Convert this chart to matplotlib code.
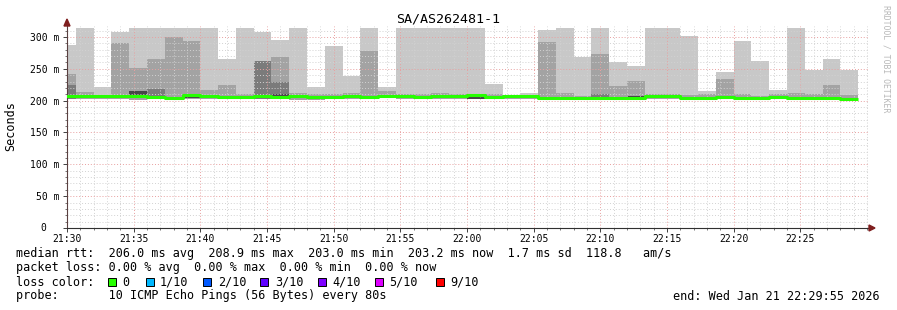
import matplotlib
matplotlib.use("Agg")
import matplotlib.pyplot as plt
import numpy as np
from matplotlib.patches import Polygon, Rectangle

# ---------------- data ----------------
title = "SA/AS262481-1"
first_step_offset_s = -40          # first sample starts at 21:29:20 (relative to 21:30:00)
step_seconds = 80

rtt_max = [288, 314, 221, 308, 314, 314, 314, 314, 314, 266, 314, 308, 296, 314, 221,
           286, 239, 314, 221, 314, 314, 314, 314, 314, 226, 209, 212, 311, 314, 269,
           314, 260, 254, 314, 314, 301, 215, 245, 294, 262, 217, 314, 248, 266, 248]
rtt_mid = [242, 213, 207, 290, 251, 266, 300, 294, 216, 225, 211, 262, 269, 212, 210,
           211, 212, 278, 215, 211, 210, 212, 210, 211, 211, 207, 208, 292, 212, 207,
           273, 223, 231, 211, 211, 209, 211, 234, 210, 208, 210, 212, 210, 225, 209]
rtt_dark = [225, None, None, None, None, 219, None, None, None, None, None, 262, 229, None, None,
            None, None, None, None, None, None, None, None, None, None, None, None, None, None, None,
            211, None, None, None, None, None, None, None, None, None, None, None, None, None, None]
rtt_min = [202, 202, 202, 202, 201.5, 202, 202, 202, 202, 202, 202, 202, 202, 201.5, 200.5,
           202, 202, 202, 206, 202, 202, 202, 202, 202, 202, 203, 203, 202, 202, 202,
           202, 202, 202, 202, 202, 202, 202, 202, 202, 202, 202, 202, 202, 202, 202]
rtt_median = [207, 207, 207, 207.5, 208, 206.5, 204, 208.7, 207, 206, 206.5, 207.3, 206.5, 207, 206.5,
              206.5, 207.2, 206.3, 207.3, 207, 205.5, 207.3, 207.3, 208.5, 205, 206.8, 206.8, 204.2, 203.9, 204,
              204.5, 204.5, 204.3, 206.8, 206.8, 204.5, 204.5, 206.5, 204.2, 204.2, 206.5, 204.5, 204, 204.3, 203.2]
rtt_core = [None, None, 204, None, 215, None, None, 204.5, None, 203.5, None, None, 210, None, None,
            None, None, 204, None, None, 203.5, None, None, 202.5, None, None, None, None, None, None,
            None, None, 207.3, 205, None, 203.3, None, 204.8, None, None, None, None, None, 206.5, None]

x_tick_minutes = [0, 5, 10, 15, 20, 25, 30, 35, 40, 45, 50, 55]
x_tick_labels = ["21:30", "21:35", "21:40", "21:45", "21:50", "21:55",
                 "22:00", "22:05", "22:10", "22:15", "22:20", "22:25"]
y_ticks = [0, 50, 100, 150, 200, 250, 300]
y_tick_labels = ["0", "50 m", "100 m", "150 m", "200 m", "250 m", "300 m"]

legend_lines = [
    "median rtt:  206.0 ms avg  208.9 ms max  203.0 ms min  203.2 ms now  1.7 ms sd  118.8   am/s",
    "packet loss: 0.00 % avg  0.00 % max  0.00 % min  0.00 % now",
    "loss color:",
    "probe:       10 ICMP Echo Pings (56 Bytes) every 80s",
]
loss_labels = ["0", "1/10", "2/10", "3/10", "4/10", "5/10", "9/10"]
loss_colors = ["#26ff00", "#00b8ff", "#0059ff", "#5e00ff", "#7e00ff", "#dd00ff", "#ff0000"]
end_text = "end: Wed Jan 21 22:29:55 2026"
watermark = "RRDTOOL / TOBI OETIKER"

# ---------------- figure ----------------
W, H = 897, 310
MONO = "DejaVu Sans Mono"
plt.rcParams["font.family"] = MONO

fig = plt.figure(figsize=(W / 100, H / 100), dpi=100)
fig.patch.set_facecolor("white")

def fx(px):
    return px / W

def fy(py):
    return 1 - py / H

ax_left, ax_right, ax_bottom = 67, 868, 228
px_per_ms = 0.6367
ytop = 317
ax_top = ax_bottom - ytop * px_per_ms
ax = fig.add_axes([fx(ax_left), fy(ax_bottom), (ax_right - ax_left) / W, (ax_bottom - ax_top) / H])
xmax = (ax_right - ax_left) / 13.333
ax.set_xlim(0, xmax)
ax.set_ylim(0, ytop)

n = len(rtt_max)
step_w = step_seconds / 60.0
x_left = np.array([first_step_offset_s / 60.0 + k * step_w for k in range(n)])

def arr(v):
    return np.array([np.nan if a is None else a for a in v], dtype=float)

mx, md, dk, mn, med, core = map(arr, (rtt_max, rtt_mid, rtt_dark, rtt_min, rtt_median, rtt_core))

ax.bar(x_left, mx - mn, bottom=mn, width=step_w, align="edge", color="#c8c8c8", linewidth=0, zorder=1)
ax.bar(x_left, md - mn, bottom=mn, width=step_w, align="edge", color="#a3a3a3", linewidth=0, zorder=1.1)
ok = ~np.isnan(dk)
ax.bar(x_left[ok], (dk - mn)[ok], bottom=mn[ok], width=step_w, align="edge", color="#7b7b7b", linewidth=0, zorder=1.2)
ok = ~np.isnan(core)
lo = np.minimum(core, med)[ok]
hi = np.maximum(core, med)[ok]
ax.bar(x_left[ok], hi - lo, bottom=lo, width=step_w, align="edge", color="#474747", linewidth=0, zorder=1.3)

xs = np.append(x_left, x_left[-1] + step_w)
ys = np.append(med, med[-1])
ax.plot(xs, ys, drawstyle="steps-post", color="#26ff00", lw=2.2, solid_capstyle="butt", zorder=3)

# grid
ax.set_xticks(x_tick_minutes)
ax.set_xticklabels(x_tick_labels)
ax.set_xticks(np.arange(1, 61, 1), minor=True)
ax.set_yticks(y_ticks)
ax.set_yticklabels([""] + y_tick_labels[1:])
ax.set_yticks(np.arange(10, 320, 10), minor=True)
ax.grid(which="minor", color="#d2d2d2", lw=0.7, linestyle=(0, (1, 2)))
ax.grid(which="major", color="#e8a0a0", lw=0.7, linestyle=(0, (1, 2)))
ax.set_axisbelow("line")

for s in ("top", "right"):
    ax.spines[s].set_visible(False)
ax.spines["left"].set_color("#5a4040")
ax.spines["bottom"].set_color("#303030")
ax.spines["left"].set_linewidth(0.8)
ax.spines["bottom"].set_linewidth(0.8)
ax.tick_params(which="major", direction="out", length=3, width=0.7, color="#404040", labelsize=7, pad=2.5)
ax.tick_params(which="minor", direction="out", length=1.5, width=0.6, color="#606060")
ax.tick_params(axis="x", which="major", pad=1.0)
for lbl in ax.get_xticklabels() + ax.get_yticklabels():
    lbl.set_family(MONO)

# "0" label (aligned as if followed by the unit column)
fig.text(fx(46.7), fy(228), y_tick_labels[0], ha="right", va="center", fontsize=7, family=MONO)

# arrows
arrow_col = "#7f1f1f"
fig.patches.append(Polygon([(fx(67), fy(19)), (fx(64), fy(26)), (fx(70), fy(26))],
                           closed=True, transform=fig.transFigure, color=arrow_col, figure=fig))
fig.patches.append(Polygon([(fx(875), fy(228)), (fx(869), fy(225)), (fx(869), fy(231))],
                           closed=True, transform=fig.transFigure, color=arrow_col, figure=fig))

# texts
fig.text(fx(448), fy(19), title, ha="center", va="center", fontsize=9.6, family=MONO)
fig.text(fx(11), fy(126), "Seconds", ha="center", va="center", rotation=90, fontsize=8.5, family=MONO)
fig.text(fx(886), fy(59), watermark, ha="center", va="center", rotation=270, fontsize=5.9,
         family=MONO, color="#b8b8b8")

row_y = [254, 268, 282, 296]
for t, yy in zip(legend_lines, row_y):
    fig.text(fx(16), fy(yy), t, ha="left", va="center", fontsize=8.5, family=MONO)

sq_x = [108, 146, 203, 260, 318, 375, 436]
lab_x = [122, 160, 218, 275, 332, 389, 450]
for sx, lx, lab, col in zip(sq_x, lab_x, loss_labels, loss_colors):
    fig.patches.append(Rectangle((fx(sx), fy(286)), 8 / W, 8 / H, transform=fig.transFigure,
                                 facecolor=col, edgecolor="black", lw=0.7, figure=fig))
    fig.text(fx(lx), fy(282), lab, ha="left", va="center", fontsize=8.5, family=MONO)

fig.text(fx(880), fy(296), end_text, ha="right", va="center", fontsize=8.5, family=MONO)

fig.savefig("out.png", dpi=100, facecolor="white")
